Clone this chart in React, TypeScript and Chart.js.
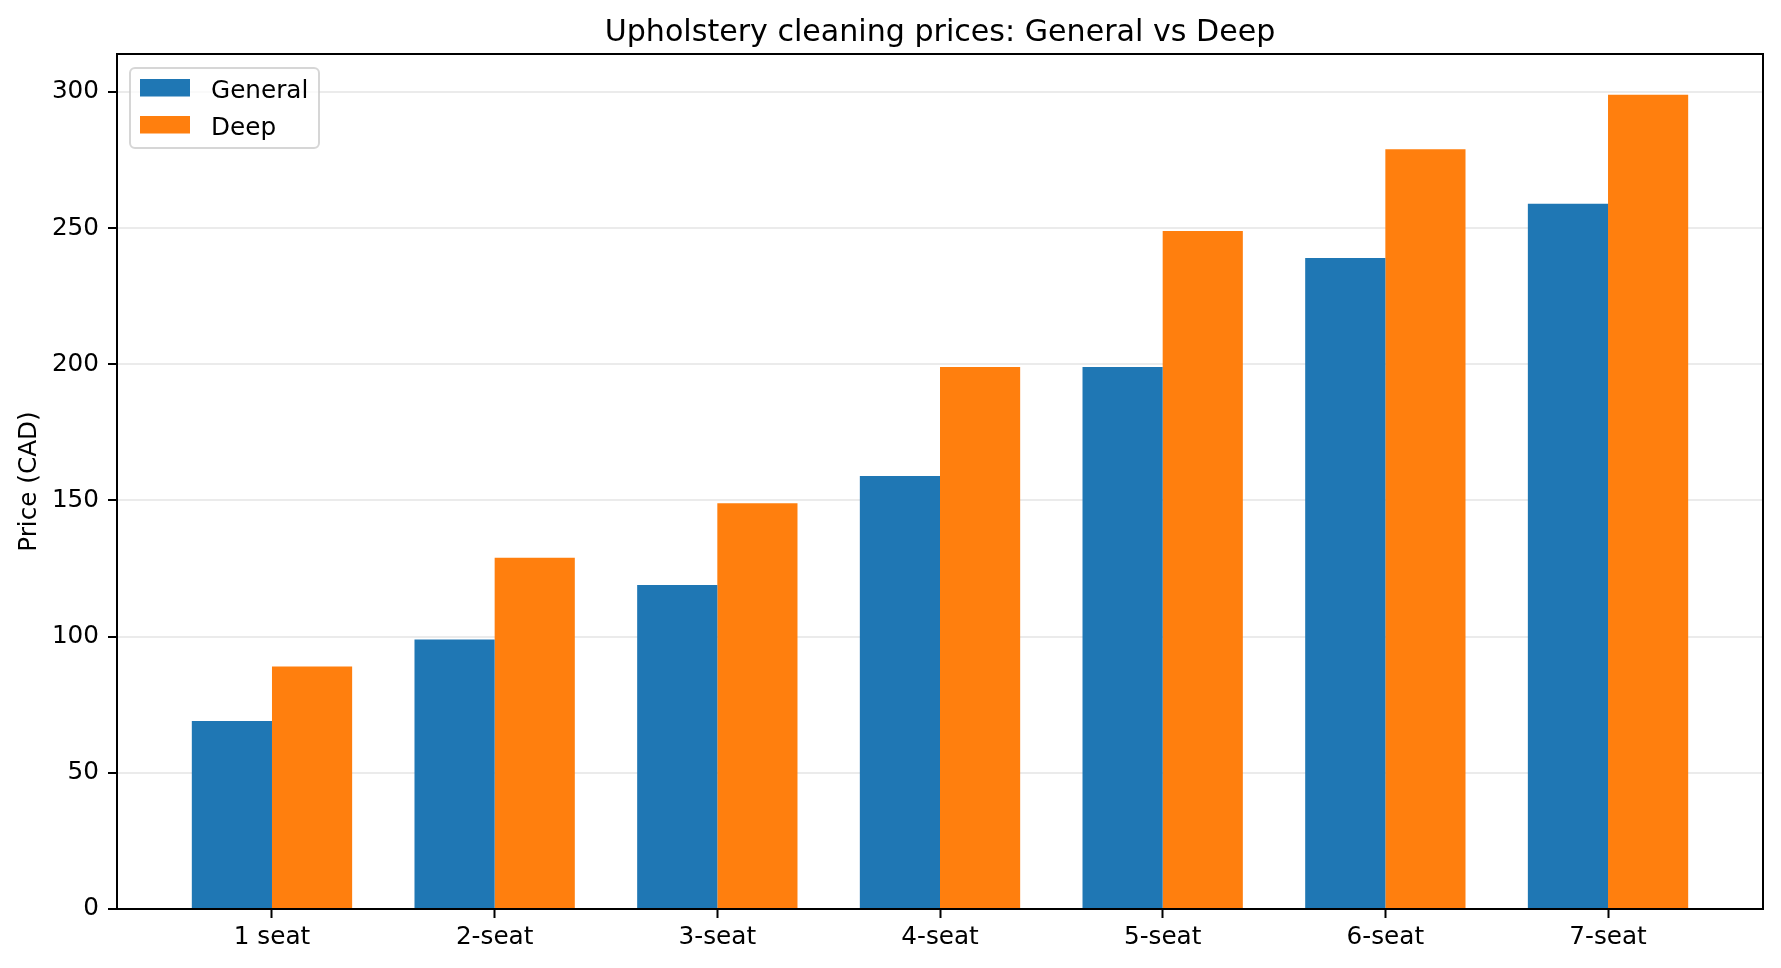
import React, { useEffect, useRef } from 'react';
import { Chart, registerables } from 'chart.js';
Chart.register(...registerables);

// data
const categories = ['1 seat', '2-seat', '3-seat', '4-seat', '5-seat', '6-seat', '7-seat'];
const generalPrices = [69, 99, 119, 159, 199, 239, 259];
const deepPrices = [89, 129, 149, 199, 249, 279, 299];
const yTicks = [0, 50, 100, 150, 200, 250, 300];
const seriesNames = ['General', 'Deep'];
const seriesColors = ['#1f77b4', '#ff7f0e'];
const chartTitle = 'Upholstery cleaning prices: General vs Deep';
const yLabel = 'Price (CAD)';

const FAMILY = '"DejaVu Sans", sans-serif';
const TICK_SIZE = 24.7;
const TITLE_SIZE = 30.1;

const decor = {
    id: 'decor',
    afterDraw(chart: any) {
        const { ctx, chartArea: a } = chart;
        ctx.save();
        // box around the axes
        ctx.strokeStyle = '#000';
        ctx.lineWidth = 2;
        ctx.strokeRect(a.left, a.top, a.right - a.left, a.bottom - a.top);

        // title
        ctx.fillStyle = '#000';
        ctx.font = `${TITLE_SIZE}px ${FAMILY}`;
        ctx.textAlign = 'center';
        ctx.textBaseline = 'alphabetic';
        ctx.fillText(chartTitle, (a.left + a.right) / 2, a.top - 13.5);

        // legend, upper left inside the axes
        const lx = a.left + 13, ly = a.top + 14, lw = 189, lh = 80;
        ctx.beginPath();
        ctx.roundRect(lx, ly, lw, lh, 5);
        ctx.fillStyle = 'rgba(255,255,255,0.8)';
        ctx.fill();
        ctx.strokeStyle = 'rgba(204,204,204,0.8)';
        ctx.lineWidth = 2;
        ctx.stroke();
        ctx.font = `${TICK_SIZE}px ${FAMILY}`;
        ctx.textAlign = 'left';
        chart.data.datasets.forEach((ds: any, i: number) => {
            const rowY = ly + 11 + i * 37;
            ctx.fillStyle = ds.backgroundColor;
            ctx.fillRect(lx + 10, rowY, 50, 17.5);
            ctx.fillStyle = '#000';
            ctx.fillText(ds.label, lx + 81, rowY + 18.5);
        });
        ctx.restore();
    }
};

const App: React.FC = () => {
    const ref = useRef<HTMLCanvasElement>(null);

    useEffect(() => {
        if (!ref.current) return;
        const font = { family: FAMILY, size: TICK_SIZE };
        const chart = new Chart(ref.current, {
            type: 'bar',
            data: {
                datasets: [generalPrices, deepPrices].map((vals, s) => ({
                    label: seriesNames[s],
                    data: vals.map((v, i) => ({ x: i, y: v })),
                    backgroundColor: seriesColors[s],
                    borderWidth: 0,
                    categoryPercentage: 0.72,
                    barPercentage: 1.0,
                })),
            },
            options: {
                animation: false,
                responsive: true,
                maintainAspectRatio: false,
                devicePixelRatio: 1,
                events: [],
                layout: { padding: { top: 54, right: 18, left: 0, bottom: 0 } },
                plugins: {
                    legend: { display: false },
                    title: { display: false },
                    tooltip: { enabled: false },
                },
                scales: {
                    x: {
                        type: 'linear',
                        min: -0.696,
                        max: 6.696,
                        offset: false,
                        afterFit: (s: any) => { s.height = 59; },
                        afterBuildTicks: (s: any) => { s.ticks = categories.map((_, i) => ({ value: i })); },
                        ticks: {
                            font,
                            color: '#000',
                            padding: 5,
                            autoSkip: false,
                            maxRotation: 0,
                            callback: (v: any) => categories[Math.round(Number(v))] ?? '',
                        },
                        grid: { display: true, drawOnChartArea: false, offset: false, tickLength: 9, tickColor: '#000', tickWidth: 2 },
                        border: { display: true, color: '#000', width: 2 },
                    },
                    y: {
                        min: 0,
                        max: 313.95,
                        z: 1,
                        afterFit: (s: any) => { s.width = 117; },
                        afterBuildTicks: (s: any) => { s.ticks = yTicks.map(v => ({ value: v })); },
                        ticks: { font, color: '#000', padding: 9 },
                        grid: { color: 'rgba(176,176,176,0.25)', lineWidth: 2, tickLength: 9, tickColor: '#000', tickWidth: 2 },
                        border: { display: true, color: '#000', width: 2 },
                        title: { display: true, text: yLabel, font, color: '#000', padding: { top: 15, bottom: 0 } },
                    },
                },
            },
            plugins: [decor],
        } as any);

        return () => {
            chart.destroy();
        };
    }, []);

    return (
        <div style={{ position: 'fixed', left: 0, top: 0, width: 1781, height: 968, background: '#fff' }}>
            <canvas ref={ref}></canvas>
        </div>
    );
};

export default App;
